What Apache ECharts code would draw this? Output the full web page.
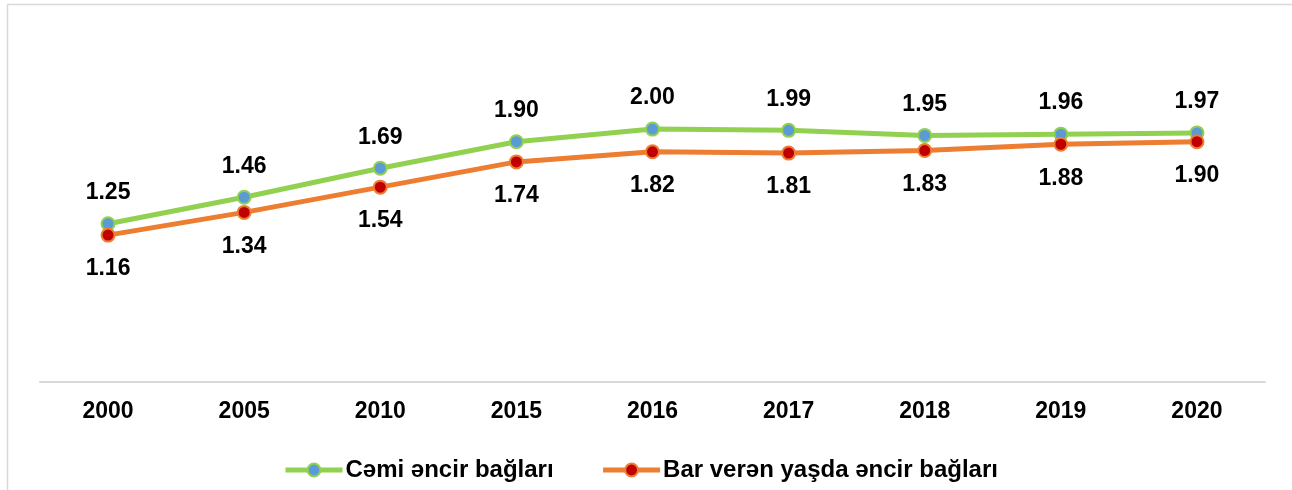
<!DOCTYPE html>
<html>
<head>
<meta charset="utf-8">
<script src="https://cdn.jsdelivr.net/npm/echarts@6/dist/echarts.min.js"></script>
<style>
  html, body { margin: 0; padding: 0; background: #fff; }
  #chart { width: 1292px; height: 490px; }
</style>
</head>
<body>
<div id="chart"></div>
<script>
const years = ["2000", "2005", "2010", "2015", "2016", "2017", "2018", "2019", "2020"];
const totalArea = [1.25, 1.46, 1.69, 1.90, 2.00, 1.99, 1.95, 1.96, 1.97];
const bearingArea = [1.16, 1.34, 1.54, 1.74, 1.82, 1.81, 1.83, 1.88, 1.90];

const chart = echarts.init(document.getElementById("chart"));
const font = "Liberation Sans, Arial, sans-serif";

const option = {
  animation: false,
  // light frame round the chart area
  graphic: [
    {
      type: "rect",
      shape: { x: 7.5, y: 4.5, width: 1290, height: 490 },
      style: { fill: "none", stroke: "#d9d9d9", lineWidth: 1.5 },
      silent: true
    }
  ],
  grid: { left: 40, right: 27, top: 66, bottom: 108.5 },
  legend: {
    top: 453,
    left: 278,
    itemWidth: 57,
    itemHeight: 16,
    itemGap: 47,
    lineStyle: { width: 5 },
    itemStyle: { borderWidth: 2 },
    textStyle: { fontFamily: font, fontWeight: "bold", fontSize: 24, color: "#000", padding: [0, 0, 0, -2] },
    data: ["Cəmi əncir bağları", "Bar verən yaşda əncir bağları"]
  },
  xAxis: {
    type: "category",
    data: years,
    axisLine: { lineStyle: { color: "#d9d9d9", width: 2 } },
    axisTick: { show: false },
    axisLabel: { fontFamily: font, fontWeight: "bold", fontSize: 23, color: "#000", margin: 19 }
  },
  yAxis: {
    type: "value",
    min: 0,
    max: 2.5,
    show: false,
    splitLine: { show: false }
  },
  series: [
    {
      name: "Cəmi əncir bağları",
      type: "line",
      data: totalArea,
      symbol: "circle",
      symbolSize: 13,
      lineStyle: { color: "#92d050", width: 5 },
      itemStyle: { color: "#5b9bd5", borderColor: "#92d050", borderWidth: 2 },
      label: {
        show: true,
        position: "top",
        distance: 12,
        formatter: p => p.value.toFixed(2),
        fontFamily: font, fontWeight: "bold", fontSize: 23, color: "#000"
      }
    },
    {
      name: "Bar verən yaşda əncir bağları",
      type: "line",
      data: bearingArea,
      symbol: "circle",
      symbolSize: 13,
      lineStyle: { color: "#ed7d31", width: 5 },
      itemStyle: { color: "#c00000", borderColor: "#ed7d31", borderWidth: 2 },
      label: {
        show: true,
        position: "bottom",
        distance: 15,
        formatter: p => p.value.toFixed(2),
        fontFamily: font, fontWeight: "bold", fontSize: 23, color: "#000"
      }
    }
  ]
};

chart.setOption(option);
</script>
</body>
</html>
